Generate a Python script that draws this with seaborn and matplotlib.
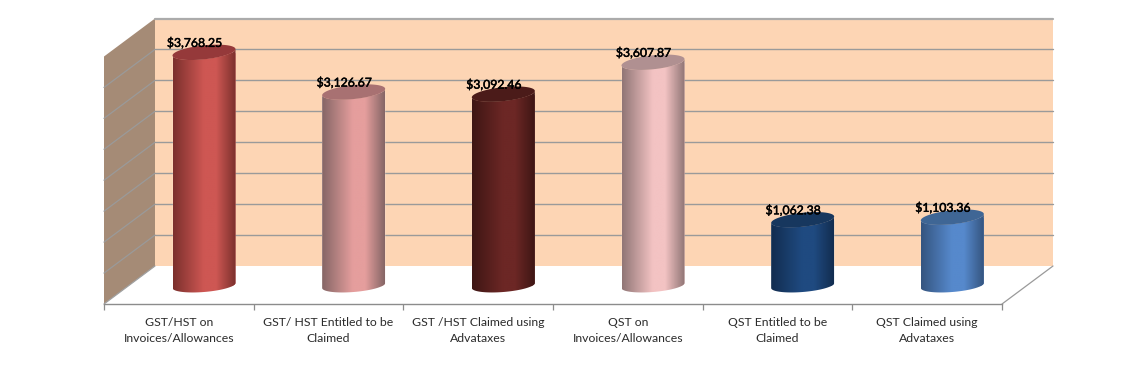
import numpy as np
import pandas as pd
import matplotlib
matplotlib.use("Agg")
import matplotlib.pyplot as plt
import matplotlib.patheffects as pe
import seaborn as sns
from matplotlib.path import Path
from matplotlib.patches import PathPatch, Polygon
from matplotlib.colors import LinearSegmentedColormap

# --- data -------------------------------------------------------------
categories = ["GST/HST on\nInvoices/Allowances", "GST/ HST Entitled to be\nClaimed",
              "GST /HST Claimed using\nAdvataxes", "QST on\nInvoices/Allowances",
              "QST Entitled to be\nClaimed", "QST Claimed using\nAdvataxes"]
values = [3768.25, 3126.67, 3092.46, 3607.87, 1062.38, 1103.36]
value_labels = ["$3,768.25", "$3,126.67", "$3,092.46", "$3,607.87", "$1,062.38", "$1,103.36"]
grid_values = [0, 500, 1000, 1500, 2000, 2500, 3000, 3500, 4000]

# --- styles -----------------------------------------------------------
body_mid = ["#CE5753", "#E59E9D", "#6C2725", "#F3C3C3", "#1F4A80", "#5689CC"]
body_edge = ["#7C302D", "#866666", "#3E1614", "#917676", "#122D50", "#355580"]
top_col = ["#95393A", "#A87172", "#4B1B19", "#B09091", "#17375E", "#3F6695"]
WALL = "#FDD5B4"; SIDE = "#A58B76"; GRID = "#9A9A9A"; TOPLINE = "#ABABAB"; AXIS = "#8C8C8C"

W, H = 1137, 387
# layout in pixels
FL, FR, FB = 104.0, 1002.0, 304.0       # front floor edge
DX, DY = 51.0, 38.0                     # depth offset
Y0_WALL, Y_TOP_WALL = 266.0, 18.5       # back wall bottom / top
Y0_BAR = 285.5                          # bar base centre
PX_PER_UNIT = (Y0_WALL - Y_TOP_WALL) / 4000
STEP = (FR - FL) / 6
BAR_C0 = 204.0
BAR_W = 63.0 / STEP

sns.set_theme(style="white")
plt.rcParams["font.family"] = ["Lato", "DejaVu Sans"]

fig = plt.figure(figsize=(W / 100, H / 100), dpi=100, facecolor="white")

# --- 3-D walls --------------------------------------------------------
bg = fig.add_axes([0, 0, 1, 1], zorder=0)
bg.set_xlim(0, W); bg.set_ylim(H, 0); bg.axis("off")
BL, BR = FL + DX, FR + DX
bg.add_patch(Polygon([(BL, Y_TOP_WALL), (BR, Y_TOP_WALL), (BR, Y0_WALL), (BL, Y0_WALL)], fc=WALL, ec="none"))
bg.add_patch(Polygon([(FL, Y_TOP_WALL + DY), (BL, Y_TOP_WALL), (BL, Y0_WALL), (FL, FB)], fc=SIDE, ec="none"))
for g in grid_values:
    y = Y0_WALL - g * PX_PER_UNIT
    if g == 0:
        bg.plot([FL, BL], [FB, Y0_WALL], color="#A0A0A0", lw=0.9)
        continue
    if g == grid_values[-1]:
        bg.plot([BL, BR], [y, y], color=TOPLINE, lw=1.6)
        continue
    bg.plot([BL, BR], [y, y], color=GRID, lw=1.0)
    bg.plot([FL, BL], [y + DY, y], color=GRID, lw=0.9)
bg.plot([FR, BR], [FB, Y0_WALL], color="#9A9A9A", lw=0.9)

# --- bars -------------------------------------------------------------
ax = fig.add_axes([FL / W, 1 - FB / H, (FR - FL) / W, (FB - (Y0_BAR - 4000 * PX_PER_UNIT)) / H], zorder=1)
ax.patch.set_alpha(0)
df = pd.DataFrame({"cat": categories, "val": values})
sns.barplot(data=df, x="cat", y="val", hue="cat", palette=body_mid, width=BAR_W,
            dodge=False, legend=False, ax=ax, saturation=1)
xlim = ((FL - BAR_C0) / STEP, (FR - BAR_C0) / STEP)
ylim = (-(FB - Y0_BAR) / PX_PER_UNIT, 4000)

t = np.linspace(0, 2 * np.pi, 121)


def ring(cx, cy, a, b_px, k_px, th):
    """Tilted ellipse, data coordinates: rises to the right by k_px."""
    return cx + a * np.cos(th), cy + (b_px * np.sin(th) + k_px * np.cos(th)) / PX_PER_UNIT


for i, bar in enumerate(list(ax.patches)[:len(values)]):
    cx = bar.get_x() + bar.get_width() / 2
    a = bar.get_width() / 2
    v = bar.get_height()
    th_low = np.linspace(np.pi, 2 * np.pi, 60)
    bx, by = ring(cx, 0, a, 6.5, 2.5, th_low)
    tx, ty = ring(cx, v, a, 7.0, 3.2, th_low[::-1])
    verts = np.column_stack([np.r_[bx, tx], np.r_[by, ty]])
    verts = np.vstack([verts, verts[0]])
    clip = PathPatch(Path(verts, closed=True), transform=ax.transData, fc="none", ec="none")
    ax.add_patch(clip)
    bar.set_clip_path(clip)
    cmap = LinearSegmentedColormap.from_list("c", [body_edge[i], body_mid[i], body_mid[i], body_edge[i]])
    xs = np.linspace(0, 1, 128)
    shade = np.interp(xs, [0, 0.5, 0.68, 1], [0, 0.34, 0.66, 1])
    im = ax.imshow(shade[None, :], cmap=cmap, vmin=0, vmax=1, aspect="auto",
                   extent=(cx - a, cx + a, ylim[0], ylim[1]), zorder=3, interpolation="bilinear")
    im.set_clip_path(clip)
    ex, ey = ring(cx, v, a, 7.0, 3.2, t)
    ax.fill(ex, ey, color=top_col[i], lw=0, zorder=4)
    ax.annotate(value_labels[i], (cx, v), xytext=(-9.5 * 0.72, 9.0 * 0.72), textcoords="offset points",
                ha="center", va="center", fontsize=8.8, fontweight="normal", color="black", zorder=6,
                path_effects=[pe.withStroke(linewidth=0.35, foreground="black")])

ax.set_xlim(xlim); ax.set_ylim(ylim)
ax.set_xlabel(""); ax.set_ylabel("")
ax.set_yticks([])
ax.set_xticks(np.arange(len(categories)) + (FL + STEP / 2 - BAR_C0) / STEP)
ax.set_xticklabels(categories, fontsize=8.8, color="#2B2B2B", linespacing=1.5)
ax.set_xticks(xlim[0] + np.arange(7), minor=True)
ax.tick_params(axis="x", which="major", length=0, pad=9.5)
ax.tick_params(axis="x", which="minor", length=4, width=0.9, color=AXIS, bottom=True)
for s in ["left", "right", "top"]:
    ax.spines[s].set_visible(False)
ax.spines["bottom"].set_color(AXIS); ax.spines["bottom"].set_linewidth(1.0)

fig.savefig("out.png", dpi=100, facecolor="white")
